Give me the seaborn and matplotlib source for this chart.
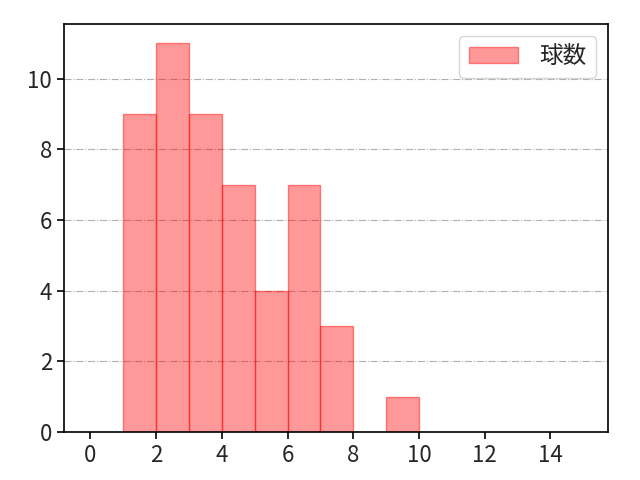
import matplotlib
matplotlib.use("Agg")
import matplotlib.pyplot as plt
import seaborn as sns
import pandas as pd

# pitch count histogram (bin left edge -> number of games)
bin_left = [1, 2, 3, 4, 5, 6, 7, 8, 9]
counts = [9, 11, 9, 7, 4, 7, 3, 0, 1]
label = "球数"

sns.set_style("white")
plt.rcParams['font.family'] = ['Noto Sans CJK JP', 'DejaVu Sans']

df = pd.DataFrame({"x": [b + 0.5 for b in bin_left], "n": counts})

fig = plt.figure(figsize=(6.4, 4.8), dpi=100)
ax = fig.add_axes([0.1, 0.1, 0.85, 0.85])
sns.histplot(data=df, x="x", weights="n", binwidth=1, binrange=(1, 10), color="red",
             alpha=0.4, edgecolor=(1, 0, 0, 0.45), linewidth=1, label=label, ax=ax)

ax.set_xlim(-0.8, 15.75)
ax.set_ylim(0, 11.55)
ax.set_xticks(range(0, 15, 2))
ax.set_xlabel("")
ax.set_ylabel("")
ax.yaxis.grid(True, linestyle="-.", color="#b0b0b0", linewidth=0.8)
ax.set_axisbelow(True)
for s in ax.spines.values():
    s.set_color("black")
    s.set_linewidth(1.2)
ax.tick_params(axis="both", labelsize=16, length=5, width=1.2, color="black", bottom=True, left=True)
ax.legend(loc="upper right", fontsize=17, handlelength=2.1, handletextpad=0.9, borderpad=0.4)

fig.savefig("out.png", dpi=100)
